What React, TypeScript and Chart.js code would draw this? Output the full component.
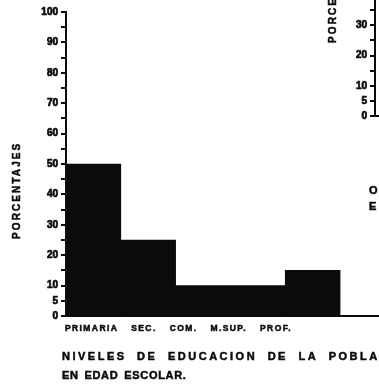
import { useEffect, useRef } from "react";
import { Chart, registerables } from "chart.js";

Chart.register(...registerables);

// Main chart: school-age population by education level
const categories = ["PRIMARIA", "SEC.", "COM.", "M.SUP.", "PROF."];
const percentages = [50, 25, 10, 10, 15];
const yTickLabels = [0, 5, 10, 20, 30, 40, 50, 60, 70, 80, 90, 100];
const yAxisTitle = "PORCENTAJES";
const captionLines = ["NIVELES DE EDUCACION DE LA POBLACION", "EN EDAD ESCOLAR."];

// Neighbouring chart on the sheet: only its axis reaches into view
const nextTickLabels = [0, 5, 10, 20, 30, 40];
const nextCaptionLines = ["O", "E"];

const FAMILY = "'Liberation Sans', Arial, sans-serif";
const INK = "#0b0b0b";

type TextOpts = {
  title?: { text: string; dx: number; up: number; size: number; spacing: number };
  labels?: { items: string[]; dx: number; dy: number; gap: number; size: number; spacing: number };
  caption?: { lines: string[]; dx: number; dy: number; lineGap: number; size: number; spacing: number[]; words: number[] };
};

function heavyText(ctx: CanvasRenderingContext2D, text: string, x: number, y: number) {
  ctx.fillText(text, x, y);
  ctx.strokeText(text, x, y);
}

// Draws the typed lettering around the axes: vertical axis title,
// category names along the baseline and the caption below.
const sheetText = {
  id: "sheetText",
  afterDraw(chart: any, _args: any, opts: TextOpts) {
    const { ctx, chartArea } = chart;
    ctx.save();
    ctx.fillStyle = INK;
    ctx.strokeStyle = INK;
    ctx.lineWidth = 0.5;
    ctx.textBaseline = "middle";
    ctx.textAlign = "left";

    if (opts.title) {
      const t = opts.title;
      ctx.save();
      ctx.font = `bold ${t.size}px ${FAMILY}`;
      (ctx as any).letterSpacing = `${t.spacing}px`;
      ctx.translate(chartArea.left + t.dx, chartArea.bottom - t.up);
      ctx.rotate(-Math.PI / 2);
      heavyText(ctx, t.text, 0, 0);
      ctx.restore();
    }

    if (opts.labels) {
      const l = opts.labels;
      ctx.save();
      ctx.font = `bold ${l.size}px ${FAMILY}`;
      (ctx as any).letterSpacing = `${l.spacing}px`;
      let x = chartArea.left + l.dx;
      const y = chartArea.bottom + l.dy;
      for (const item of l.items) {
        heavyText(ctx, item, x, y);
        x += ctx.measureText(item).width + l.gap;
      }
      ctx.restore();
    }

    if (opts.caption) {
      const c = opts.caption;
      c.lines.forEach((line, i) => {
        ctx.save();
        ctx.font = `bold ${c.size}px ${FAMILY}`;
        (ctx as any).letterSpacing = `${c.spacing[i]}px`;
        (ctx as any).wordSpacing = `${c.words[i]}px`;
        heavyText(ctx, line, chartArea.left + c.dx, chartArea.bottom + c.dy + i * c.lineGap);
        ctx.restore();
      });
    }
    ctx.restore();
  },
};

function yScale(max: number, labels: number[], width: number) {
  return {
    min: 0,
    max,
    ticks: {
      stepSize: 5,
      autoSkip: false,
      padding: 3,
      color: INK,
      textStrokeColor: INK,
      textStrokeWidth: 0.7,
      font: { family: FAMILY, size: 10, weight: "bold" as const },
      callback: (v: any) => (labels.includes(Number(v)) ? String(v) : ""),
    },
    grid: { drawOnChartArea: false, drawTicks: true, tickLength: 5, lineWidth: 2, color: INK },
    border: { display: true, color: INK, width: 2 },
    afterFit: (s: any) => {
      s.width = width;
    },
  };
}

function xBaseline(max: number) {
  return {
    type: "linear" as const,
    min: 0,
    max,
    offset: false,
    ticks: { display: false },
    grid: { display: false, offset: false },
    border: { display: true, color: INK, width: 2 },
    afterFit: (s: any) => {
      s.height = 0;
    },
  };
}

export default function App() {
  const mainRef = useRef<HTMLCanvasElement>(null);
  const nextRef = useRef<HTMLCanvasElement>(null);

  useEffect(() => {
    const main = new Chart(mainRef.current!, {
      type: "bar",
      data: {
        datasets: [
          {
            data: categories.map((_, i) => ({ x: i + 0.5, y: percentages[i] })),
            backgroundColor: INK,
            borderWidth: 0,
            barPercentage: 1,
            categoryPercentage: 1,
          },
        ],
      },
      plugins: [sheetText],
      options: {
        animation: false,
        responsive: false,
        layout: { padding: { left: 0, top: 12, right: 0, bottom: 76 } },
        plugins: {
          legend: { display: false },
          tooltip: { enabled: false },
          sheetText: {
            title: { text: yAxisTitle, dx: -49, up: 77, size: 10, spacing: 2.1 },
            labels: { items: categories, dx: -1, dy: 13, gap: 13, size: 8.5, spacing: 1.4 },
            caption: {
              lines: captionLines,
              dx: -4,
              dy: 41,
              lineGap: 19,
              size: 11,
              spacing: [2.5, 0.7],
              words: [5, 2],
            },
          },
        } as any,
        scales: {
          x: xBaseline(5.71),
          y: yScale(100, yTickLabels, 66),
        } as any,
      },
    });

    const next = new Chart(nextRef.current!, {
      type: "bar",
      data: { datasets: [] },
      plugins: [sheetText],
      options: {
        animation: false,
        responsive: false,
        layout: { padding: { left: 0, top: 45, right: 0, bottom: 134 } },
        plugins: {
          legend: { display: false },
          tooltip: { enabled: false },
          sheetText: {
            title: { text: yAxisTitle, dx: -42, up: 73, size: 10, spacing: 2.1 },
            caption: {
              lines: nextCaptionLines,
              dx: -6,
              dy: 75,
              lineGap: 16,
              size: 11,
              spacing: [0, 0],
              words: [0, 0],
            },
          },
        } as any,
        scales: {
          x: xBaseline(1),
          y: yScale(40, nextTickLabels, 75),
        } as any,
      },
    });

    return () => {
      main.destroy();
      next.destroy();
    };
  }, []);

  return (
    <div
      style={{
        position: "fixed",
        left: 0,
        top: 0,
        width: 379,
        height: 392,
        overflow: "hidden",
        background: "#fff",
      }}
    >
      <canvas ref={mainRef} width={379} height={392} style={{ position: "absolute", left: 0, top: 0 }} />
      <canvas ref={nextRef} width={200} height={300} style={{ position: "absolute", left: 300, top: -50 }} />
    </div>
  );
}
